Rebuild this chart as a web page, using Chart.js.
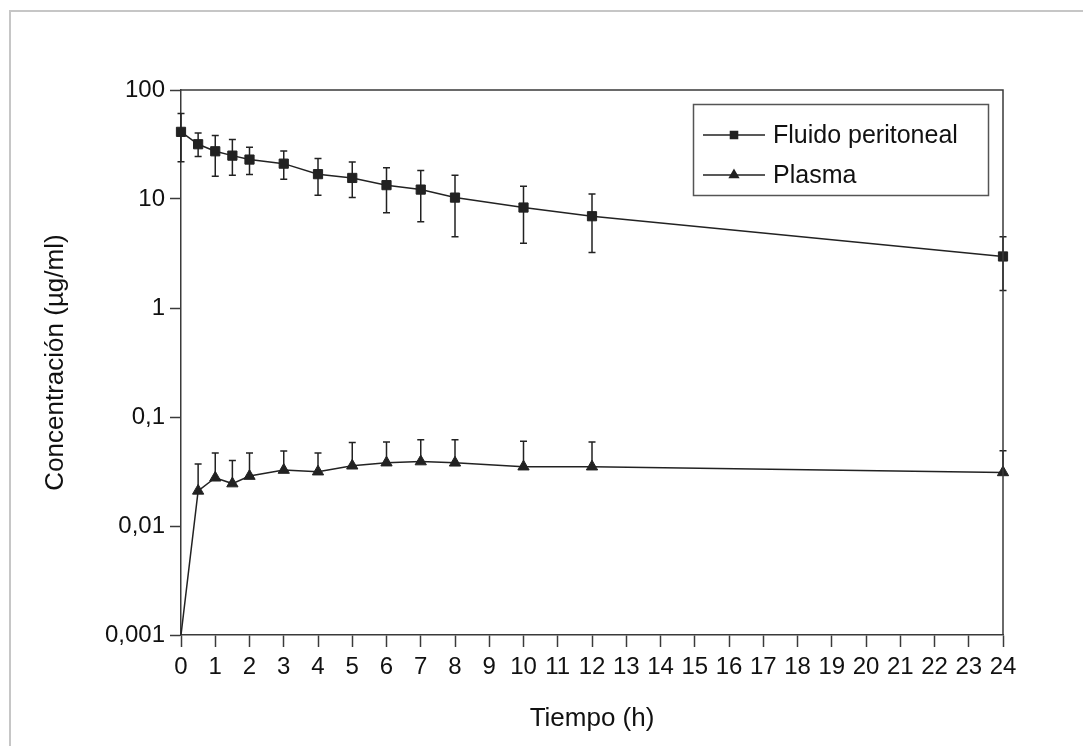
<!DOCTYPE html>
<html lang="es">
<head>
<meta charset="utf-8">
<title>Concentración vs tiempo</title>
<script src="https://cdn.jsdelivr.net/npm/chart.js@4.4.1/dist/chart.umd.min.js"></script>
<style>
  html, body { margin: 0; padding: 0; background: #fff; overflow: hidden; }
  .frame { position: absolute; left: 9px; top: 10px; right: 0; bottom: 0;
           border-left: 2px solid #c6c6c6; border-top: 2px solid #c6c6c6; }
  .wrap { position: absolute; left: 0; top: 0; width: 1083px; height: 746px; }
</style>
</head>
<body>
<div class="frame"></div>
<div class="wrap"><canvas id="chart" width="1083" height="746"></canvas></div>
<script>
// Data
const times = [0, 0.5, 1, 1.5, 2, 3, 4, 5, 6, 7, 8, 10, 12, 24];

const fluido     = [41.3, 31.8, 27.4, 25.0, 23.0, 21.1, 16.9, 15.6, 13.4, 12.2, 10.3, 8.35, 6.95, 2.97];
const fluidoHigh = [61.0, 40.4, 38.2, 35.1, 29.8, 27.6, 23.5, 21.8, 19.4, 18.3, 16.5, 13.1, 11.1, 4.5];
const fluidoLow  = [22.0, 24.6, 16.2, 16.5, 16.8, 15.2, 10.8, 10.3, 7.46, 6.2, 4.5, 3.92, 3.23, 1.45];

const plasma     = [0.001, 0.021, 0.0277, 0.0245, 0.0287, 0.0326, 0.0315, 0.0357, 0.0381, 0.039, 0.038, 0.035, 0.035, 0.031];
const plasmaHigh = [null, 0.0371, 0.0468, 0.040, 0.0468, 0.0488, 0.0468, 0.0582, 0.059, 0.0617, 0.062, 0.0598, 0.059, 0.049];

const yTicks = [0.001, 0.01, 0.1, 1, 10, 100];
const yTickLabels = ['0,001', '0,01', '0,1', '1', '10', '100'];

const ink = '#222';
const axisColor = '#3a3a3a';
const textColor = '#111';

Chart.defaults.font.family = '"Liberation Sans", Arial, Helvetica, sans-serif';
Chart.defaults.color = textColor;

// Vertical error bars with small caps
const errorBars = {
    id: 'errorBars',
    beforeDatasetsDraw(chart) {
        const { ctx, scales: { x, y } } = chart;
        ctx.save();
        ctx.strokeStyle = ink;
        ctx.lineWidth = 1.5;
        chart.data.datasets.forEach(ds => {
            const hi = ds.errHigh || [];
            const lo = ds.errLow || [];
            ds.data.forEach((p, i) => {
                const px = x.getPixelForValue(p.x);
                const py = y.getPixelForValue(p.y);
                ctx.beginPath();
                if (hi[i] != null) {
                    const yh = y.getPixelForValue(hi[i]);
                    ctx.moveTo(px, py); ctx.lineTo(px, yh);
                    ctx.moveTo(px - 3.5, yh); ctx.lineTo(px + 3.5, yh);
                }
                if (lo[i] != null) {
                    const yl = y.getPixelForValue(lo[i]);
                    ctx.moveTo(px, py); ctx.lineTo(px, yl);
                    ctx.moveTo(px - 3.5, yl); ctx.lineTo(px + 3.5, yl);
                }
                ctx.stroke();
            });
        });
        ctx.restore();
    }
};

// Closed frame round the plot and the boxed legend inside it
const frameAndLegend = {
    id: 'frameAndLegend',
    afterDraw(chart) {
        const { ctx, chartArea: a } = chart;
        ctx.save();
        ctx.strokeStyle = axisColor;
        ctx.lineWidth = 1.5;
        ctx.beginPath();
        ctx.moveTo(a.left, a.top);
        ctx.lineTo(a.right, a.top);
        ctx.lineTo(a.right, a.bottom);
        ctx.stroke();

        // legend box
        ctx.strokeStyle = '#555';
        ctx.strokeRect(693.5, 104.5, 295, 91);
        chart.data.datasets.forEach((ds, i) => {
            const ly = 135 + i * 40;
            ctx.strokeStyle = ink;
            ctx.lineWidth = 1.5;
            ctx.beginPath();
            ctx.moveTo(703, ly);
            ctx.lineTo(765, ly);
            ctx.stroke();
            ctx.fillStyle = ink;
            Chart.helpers.drawPoint(ctx, { pointStyle: ds.pointStyle, radius: 5, borderWidth: 1, rotation: 0 }, 734, ly);
            ctx.fillStyle = textColor;
            ctx.font = '25px "Liberation Sans", Arial, sans-serif';
            ctx.textBaseline = 'middle';
            ctx.textAlign = 'left';
            ctx.fillText(ds.label, 773, ly + 1);
        });
        ctx.restore();
    }
};

new Chart(document.getElementById('chart'), {
    type: 'scatter',
    data: {
        datasets: [
            {
                label: 'Fluido peritoneal',
                data: times.map((t, i) => ({ x: t, y: fluido[i] })),
                errHigh: fluidoHigh,
                errLow: fluidoLow,
                showLine: true,
                borderColor: ink,
                backgroundColor: ink,
                borderWidth: 1.5,
                pointStyle: 'rect',
                pointRadius: 6.5,
                pointBorderWidth: 1,
                clip: false
            },
            {
                label: 'Plasma',
                data: times.map((t, i) => ({ x: t, y: plasma[i] })),
                errHigh: plasmaHigh,
                showLine: true,
                borderColor: ink,
                backgroundColor: ink,
                borderWidth: 1.5,
                pointStyle: 'triangle',
                pointRadius: ctx => ctx.dataIndex === 0 ? 0 : 6.5,
                pointBorderWidth: 1,
                clip: false
            }
        ]
    },
    options: {
        responsive: false,
        animation: false,
        layout: { padding: { left: 0, right: 80, top: 90, bottom: 0 } },
        plugins: {
            legend: { display: false },
            tooltip: { enabled: false }
        },
        scales: {
            x: {
                type: 'linear',
                min: 0,
                max: 24,
                afterFit: scale => { scale.height = 111; },
                border: { color: axisColor, width: 1.5 },
                grid: { display: true, drawOnChartArea: false, tickLength: 12, tickColor: axisColor, tickWidth: 1.5 },
                ticks: { stepSize: 1, autoSkip: false, maxRotation: 0, padding: 6, font: { size: 24 }, color: textColor },
                title: { display: true, text: 'Tiempo (h)', font: { size: 26 }, color: textColor, padding: { top: 0, bottom: 12 } }
            },
            y: {
                type: 'logarithmic',
                min: 0.001,
                max: 100,
                afterFit: scale => { scale.width = 181; },
                afterBuildTicks: scale => { scale.ticks = yTicks.map(v => ({ value: v })); },
                border: { color: axisColor, width: 1.5 },
                grid: { display: true, drawOnChartArea: false, tickLength: 11, tickColor: axisColor, tickWidth: 1.5 },
                ticks: {
                    padding: 5,
                    font: { size: 24 },
                    color: textColor,
                    callback: v => yTickLabels[yTicks.indexOf(v)]
                },
                title: { display: true, text: 'Concentración (µg/ml)', font: { size: 26 }, color: textColor, padding: { top: 40, bottom: 0 } }
            }
        }
    },
    plugins: [errorBars, frameAndLegend]
});
</script>
</body>
</html>
